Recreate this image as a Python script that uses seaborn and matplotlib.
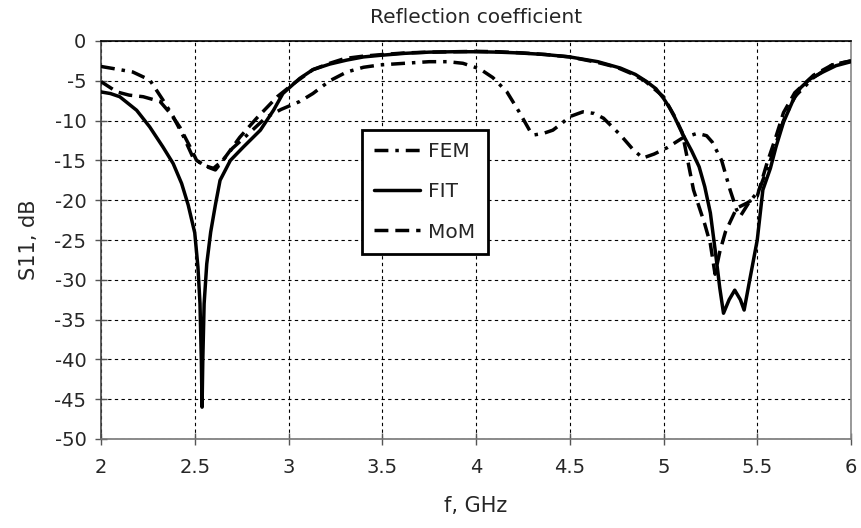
import numpy as np
import pandas as pd
import matplotlib
matplotlib.use("Agg")
import matplotlib.pyplot as plt
import seaborn as sns

# ---- data ----
fem_f = [2.0, 2.1, 2.17, 2.26, 2.33, 2.385, 2.44, 2.49, 2.545, 2.60, 2.65, 2.70, 2.78, 2.88,
         2.96, 3.06, 3.13, 3.22, 3.31, 3.40, 3.49, 3.62, 3.75, 3.85, 3.93, 4.02, 4.09, 4.165,
         4.23, 4.29, 4.31, 4.36, 4.41, 4.46, 4.5, 4.57, 4.63, 4.68, 4.77, 4.84, 4.89, 4.95,
         5.02, 5.10, 5.18, 5.23, 5.26, 5.31, 5.355, 5.39, 5.41, 5.45, 5.51, 5.57, 5.64, 5.7,
         5.8, 5.9, 6.0]
fem_db = [-3.2, -3.6, -3.9, -4.9, -7.4, -9.5, -12.0, -14.6, -15.6, -16.0, -15.0, -13.5, -11.8, -9.6,
          -8.6, -7.6, -6.6, -5.0, -3.9, -3.3, -3.0, -2.8, -2.6, -2.6, -2.8, -3.5, -4.6, -6.4,
          -8.9, -11.4, -11.8, -11.6, -11.2, -10.3, -9.5, -8.9, -9.1, -9.7, -11.8, -13.7, -14.7, -14.2,
          -13.4, -12.2, -11.6, -11.9, -12.7, -15.0, -18.7, -21.2, -22.0, -20.5, -18.7, -15.0, -10.0, -7.0,
          -4.6, -3.0, -2.5]

fit_f = [2.0, 2.05, 2.10, 2.19, 2.26, 2.33, 2.385, 2.43, 2.465, 2.50, 2.517, 2.528, 2.535, 2.539,
         2.543, 2.55, 2.564, 2.585, 2.61, 2.635, 2.69, 2.76, 2.85, 2.92, 2.97, 3.06, 3.13, 3.22,
         3.31, 3.40, 3.49, 3.62, 3.75, 3.88, 4.0, 4.12, 4.23, 4.37, 4.5, 4.65, 4.77, 4.85, 4.91,
         4.96, 5.0, 5.03, 5.06, 5.10, 5.15, 5.19, 5.22, 5.25, 5.28, 5.30, 5.32, 5.35, 5.38, 5.41,
         5.43, 5.46, 5.50, 5.53, 5.57, 5.60, 5.64, 5.69, 5.73, 5.78, 5.85, 5.92, 6.0]
fit_db = [-6.4, -6.6, -7.0, -8.7, -10.8, -13.3, -15.4, -17.9, -20.6, -24.1, -28.4, -33.0, -40.0, -46.0,
          -40.0, -33.0, -28.0, -24.0, -20.6, -17.5, -15.0, -13.3, -11.2, -8.7, -6.6, -4.7, -3.6, -2.9,
          -2.4, -2.0, -1.8, -1.55, -1.4, -1.35, -1.35, -1.4, -1.5, -1.7, -2.0, -2.6, -3.4, -4.2, -5.1,
          -6.0, -7.2, -8.3, -9.6, -11.6, -13.8, -15.8, -18.3, -21.6, -27.1, -31.0, -34.2, -32.5, -31.3, -32.5,
          -33.8, -30.0, -25.0, -18.7, -16.0, -13.3, -10.2, -7.5, -5.9, -4.8, -3.9, -3.1, -2.6]

mom_f = [2.0, 2.085, 2.15, 2.225, 2.315, 2.37, 2.42, 2.475, 2.51, 2.565, 2.61, 2.65, 2.74, 2.83,
         2.94, 3.03, 3.13, 3.22, 3.3, 3.4, 3.5, 3.62, 3.75, 3.88, 4.0, 4.12, 4.25, 4.37, 4.5,
         4.65, 4.75, 4.83, 4.9, 4.95, 5.0, 5.06, 5.10, 5.16, 5.22, 5.25, 5.275, 5.30, 5.33, 5.39,
         5.45, 5.5, 5.55, 5.6, 5.64, 5.7, 5.8, 5.9, 6.0]
mom_db = [-5.1, -6.4, -6.8, -7.0, -7.6, -9.1, -10.8, -13.3, -15.0, -15.8, -16.2, -15.0, -12.1, -9.7,
          -7.0, -5.3, -3.6, -2.8, -2.2, -1.9, -1.7, -1.5, -1.4, -1.35, -1.3, -1.35, -1.5, -1.7, -2.0,
          -2.7, -3.3, -4.1, -5.0, -6.0, -7.0, -9.5, -11.5, -18.7, -23.0, -25.5, -29.3, -26.5, -24.0, -21.0,
          -20.3, -19.5, -15.5, -12.0, -9.0, -6.5, -4.3, -3.0, -2.5]

methods = ["FEM", "FIT", "MoM"]

df = pd.concat([
    pd.DataFrame({"f": fem_f, "S11": fem_db, "method": "FEM"}),
    pd.DataFrame({"f": fit_f, "S11": fit_db, "method": "FIT"}),
    pd.DataFrame({"f": mom_f, "S11": mom_db, "method": "MoM"}),
], ignore_index=True)

sns.set_style("white")
plt.rcParams["font.family"] = ["DejaVu Sans"]
plt.rcParams["axes.unicode_minus"] = False

fig = plt.figure(figsize=(8.61, 5.28), dpi=100)
ax = fig.add_axes([101/861, 1 - 439/528, 750/861, 398/528])

sns.lineplot(data=df, x="f", y="S11", style="method", style_order=methods,
             dashes={"FEM": (4, 2, 1, 2), "FIT": "", "MoM": (4, 2)},
             color="black", linewidth=2.5, estimator=None, sort=False, ax=ax, zorder=3)

ax.set_xlim(2, 6)
ax.set_ylim(-50, 0)
ax.set_xticks(np.arange(2, 6.01, 0.5))
ax.set_xticklabels(["2", "2.5", "3", "3.5", "4", "4.5", "5", "5.5", "6"])
ax.set_yticks(np.arange(-50, 0.1, 5))
ax.grid(True, color="black", linestyle=(0, (3, 3)), linewidth=0.8, zorder=0)
ax.set_axisbelow(True)

ax.tick_params(axis="both", direction="inout", length=9, width=1, color="#555555",
               labelsize=14, left=True, bottom=True)
ax.tick_params(axis="x", pad=9)
ax.tick_params(axis="y", pad=6)
for side, col in [("left", "#444444"), ("bottom", "#777777"), ("top", "black"), ("right", "#888888")]:
    ax.spines[side].set_color(col)
    ax.spines[side].set_linewidth(1.2)

ax.set_xlabel("f, GHz", fontsize=15, labelpad=14)
ax.set_ylabel("S11, dB", fontsize=15, labelpad=11)
ax.set_title("Reflection coefficient", fontsize=14.5, pad=13)

handles, labels = ax.get_legend_handles_labels()
leg = ax.legend(handles, labels, loc="upper left", bbox_to_anchor=(0.348, 0.776),
                borderaxespad=0, frameon=True, fancybox=False, framealpha=1,
                edgecolor="black", fontsize=14.5, labelspacing=1.05, handlelength=2.3,
                handletextpad=0.4, borderpad=0.6)
leg.get_frame().set_linewidth(2)

fig.savefig("out.png", dpi=100)
